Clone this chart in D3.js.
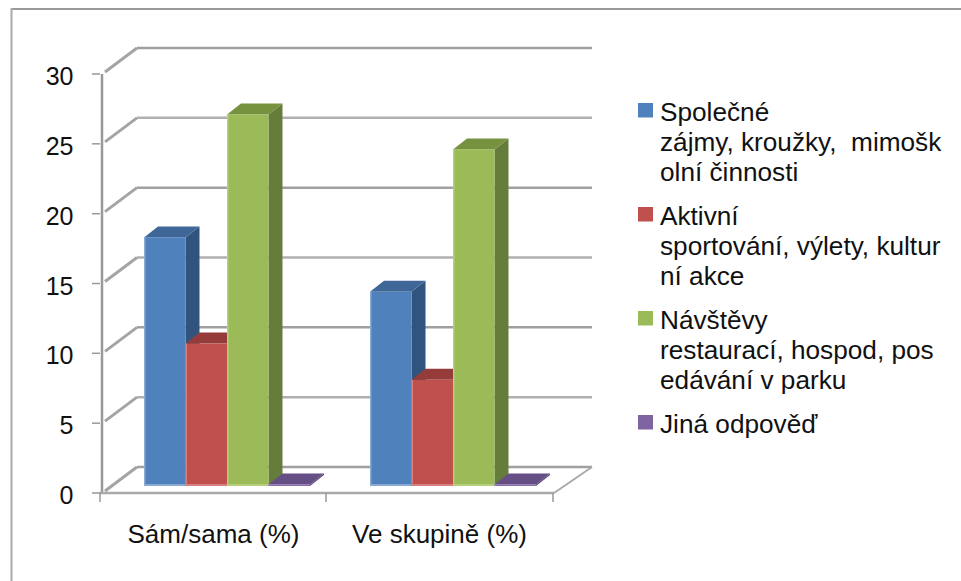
<!DOCTYPE html>
<html><head><meta charset="utf-8">
<script src="https://cdn.jsdelivr.net/npm/d3@7"></script>
<style>html,body{margin:0;background:#fff}svg{display:block}text{font-family:"Liberation Sans",Arial,sans-serif;fill:#111;white-space:pre}</style>
</head><body><svg id="c" width="961" height="581"></svg>
<script>
const categories = ["Sám/sama (%)", "Ve skupině (%)"];
const seriesNames = ["Společné zájmy", "Aktivní sportování", "Návštěvy", "Jiná odpověď"];
const sam = [17.8, 10.2, 26.6, 0.1];
const skupina = [13.9, 7.6, 24.1, 0.1];
const ticks = [0, 5, 10, 15, 20, 25, 30];
const colors = ["#4f81bd", "#c0504d", "#9bbb59", "#8064a2"];
const sideColors = ["#31547f", "#7f3533", "#667c3a", "#5a4673"];
const topColors = ["#3e6797", "#953b39", "#77923f", "#654f85"];
const lightColors = ["#8aaad4", "#d8807d", "#b6cf78", "#9a82b8"];
const legendLines = [
  ["Společné", "zájmy, kroužky,  mimošk", "olní činnosti"],
  ["Aktivní", "sportování, výlety, kultur", "ní akce"],
  ["Návštěvy", "restaurací, hospod, pos", "edávání v parku"],
  ["Jiná odpověď"]
];

const svg = d3.select("#c");
svg.append("line").attr("x1",11).attr("x2",961).attr("y1",9).attr("y2",9).attr("stroke","#999").attr("stroke-width",2);
svg.append("line").attr("x1",11.5).attr("x2",11.5).attr("y1",8).attr("y2",581).attr("stroke","#aaa").attr("stroke-width",2);

const y = d3.scaleLinear().domain([0,30]).range([493,74]);
const x0 = d3.scaleBand().domain(categories).range([102,554]);
const wallDX = 35, wallDY = -26, right = 592;
const g = svg.append("g");
ticks.forEach(t=>{
  g.append("line").attr("x1",102+wallDX).attr("x2",right).attr("y1",y(t)+wallDY).attr("y2",y(t)+wallDY)
    .attr("stroke",t%10===0?"#a0a0a0":"#b0b0b0").attr("stroke-width",2.5);
  g.append("line").attr("x1",105).attr("x2",102+wallDX).attr("y1",y(t)-2).attr("y2",y(t)+wallDY)
    .attr("stroke","#a4a4a4").attr("stroke-width",3);
});
g.append("line").attr("x1",102).attr("x2",102).attr("y1",y(30)).attr("y2",y(0)).attr("stroke","#999").attr("stroke-width",2.5);
g.append("line").attr("x1",99).attr("x2",554).attr("y1",y(0)).attr("y2",y(0)).attr("stroke","#aaa").attr("stroke-width",2.5);
g.append("line").attr("x1",554).attr("x2",right).attr("y1",y(0)).attr("y2",y(0)+wallDY)
  .attr("stroke","#aaa").attr("stroke-width",2);
ticks.forEach(t=>{
  g.append("line").attr("x1",92).attr("x2",100).attr("y1",y(t)).attr("y2",y(t)).attr("stroke","#999").attr("stroke-width",1.5);
  g.append("text").attr("x",73.5).attr("y",y(t)+11).attr("text-anchor","end").attr("font-size",25).text(t);
});
[100, 326, 553].forEach(px=>g.append("line").attr("x1",px).attr("x2",px).attr("y1",493).attr("y2",502).attr("stroke","#999").attr("stroke-width",1.5));
categories.forEach(c=>g.append("text").attr("x",x0(c)+x0.bandwidth()/2-1.5).attr("y",543)
  .attr("text-anchor","middle").attr("font-size",26).text(c));

const base = 486, barDX = 14, barDY = -11;
const unit = y(0)-y(1);
const inner = d3.scaleBand().domain(d3.range(4)).range([0,166]);
[sam, skupina].forEach((vals,gi)=>{
  const gx = x0(categories[gi]) + 42;
  [0,1,2,3].forEach(i=>{
    const v = vals[i];
    const bx = gx + inner(i), w = inner.bandwidth(), top = base - v*unit;
    const bar = g.append("g");
    bar.append("path").attr("d",`M${bx+w},${top}L${bx+w+barDX},${top+barDY}V${base+barDY}L${bx+w},${base}Z`).attr("fill",sideColors[i]);
    bar.append("path").attr("d",`M${bx},${top}L${bx+barDX},${top+barDY}H${bx+w+barDX}L${bx+w},${top}Z`).attr("fill",topColors[i]);
    bar.append("rect").attr("x",bx).attr("y",top).attr("width",w).attr("height",base-top).attr("fill",colors[i]);
    bar.append("rect").attr("x",bx).attr("y",base-2).attr("width",w).attr("height",Math.min(2,base-top)).attr("fill",lightColors[i]);
    bar.append("rect").attr("x",bx).attr("y",top).attr("width",1.5).attr("height",base-top).attr("fill",lightColors[i]);
  });
});

const swatchY = [103, 207, 311, 415];
const firstBase = [121, 225, 329, 433];
legendLines.forEach((lines,i)=>{
  g.append("rect").attr("x",638).attr("y",swatchY[i]).attr("width",15).attr("height",14.5).attr("fill",colors[i]);
  lines.forEach((l,j)=>g.append("text").attr("x",660).attr("y",firstBase[i]+j*30).attr("font-size",26.2).text(l));
});
</script></body></html>
